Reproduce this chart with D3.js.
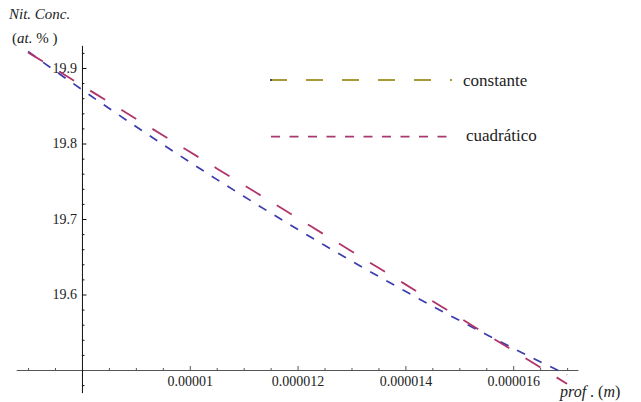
<!DOCTYPE html>
<html><head><meta charset="utf-8">
<script src="https://d3js.org/d3.v7.min.js"></script>
<style>
html,body{margin:0;padding:0;background:#fff;}
svg{display:block;}
svg text{font-family:"Liberation Serif","Times New Roman",Times,"DejaVu Serif","Noto Serif",serif;}
</style></head><body>
<svg id="chart" width="641" height="402"></svg>
<script>
// ---- data (depth in m, nitrogen concentration in at.%) ----
const depth = [7e-6, 7.5e-6, 8e-6, 8.5e-6, 9e-6, 9.5e-6, 10e-6, 10.5e-6, 11e-6, 11.5e-6, 12e-6,
               12.5e-6, 13e-6, 13.5e-6, 14e-6, 14.5e-6, 15e-6, 15.5e-6, 16e-6, 16.5e-6, 17e-6];
const constante = [19.9207, 19.8987, 19.8768, 19.8548, 19.8329, 19.8109, 19.7890, 19.7670, 19.7451, 19.7231, 19.7012,
                   19.6792, 19.6573, 19.6353, 19.6134, 19.5914, 19.5695, 19.5475, 19.5256, 19.5036, 19.4817];
const cuadratico = [19.9218, 19.8963, 19.8713, 19.8467, 19.8225, 19.7988, 19.7754, 19.7525, 19.7301, 19.7080, 19.6864,
                    19.6652, 19.6444, 19.6241, 19.6042, 19.5847, 19.5657, 19.5470, 19.5288, 19.5110, 19.4937];
const seriesNames = ["constante", "cuadrático"];

const xMajorTicks = [1e-5, 1.2e-5, 1.4e-5, 1.6e-5];
const xTickLabels = ["0.00001", "0.000012", "0.000014", "0.000016"];
const xMinorTicks = [7e-6, 7.5e-6, 8.5e-6, 9e-6, 9.5e-6, 10.5e-6, 11e-6, 11.5e-6, 12.5e-6, 13e-6, 13.5e-6,
                     14.5e-6, 15e-6, 15.5e-6, 16.5e-6, 17e-6];
const yMajorTicks = [19.6, 19.7, 19.8, 19.9];
const yTickLabels = ["19.6", "19.7", "19.8", "19.9"];
const yMinorTicks = [19.48, 19.52, 19.54, 19.56, 19.58, 19.62, 19.64, 19.66, 19.68, 19.72, 19.74, 19.76, 19.78,
                     19.82, 19.84, 19.86, 19.88, 19.92];
const xOrigin = 8e-6, yOrigin = 19.5;

// ---- drawing ----
const svg = d3.select("#chart");

const x = d3.scaleLinear().domain([6.78e-6, 17.2e-6]).range([16.2, 577.9]);
const y = d3.scaleLinear().domain([19.47, 19.93]).range([392.65, 45.35]);

function styleAxis(g, color) {
  g.attr("font-family", null);
  g.select(".domain").attr("stroke", color).attr("stroke-width", 1);
  g.selectAll(".tick line").attr("stroke", color);
  g.selectAll("text").attr("font-size", 14).attr("fill", "#222");
}

// X axis
const gx = svg.append("g").attr("transform", `translate(0,${y(yOrigin)})`);
gx.call(d3.axisBottom(x).tickValues(xMinorTicks).tickSizeInner(-2).tickSizeOuter(0).tickFormat(""));
styleAxis(gx, "#555");
const gx2 = svg.append("g").attr("transform", `translate(0,${y(yOrigin)})`);
gx2.call(d3.axisBottom(x).tickValues(xMajorTicks).tickSizeInner(-4).tickSizeOuter(0).tickPadding(6)
  .tickFormat((d, i) => xTickLabels[i]));
gx2.select(".domain").remove();
styleAxis(gx2, "#555");

// Y axis
const gy = svg.append("g").attr("transform", `translate(${x(xOrigin)},0)`);
gy.call(d3.axisLeft(y).tickValues(yMinorTicks).tickSizeInner(-2.5).tickSizeOuter(0).tickFormat(""));
styleAxis(gy, "#111");
const gy2 = svg.append("g").attr("transform", `translate(${x(xOrigin)},0)`);
gy2.call(d3.axisLeft(y).tickValues(yMajorTicks).tickSizeInner(-4.5).tickSizeOuter(0).tickPadding(5)
  .tickFormat((d, i) => yTickLabels[i]));
gy2.select(".domain").remove();
styleAxis(gy2, "#111");

// series lines
const line = d3.line().x(d => x(d[0])).y(d => y(d[1])).curve(d3.curveMonotoneX);
const plotData = [
  {name: seriesNames[1], values: depth.map((d, i) => [d, cuadratico[i]]), color: "#3c3cae", dash: "9,9.5", w: 1.7},
  {name: seriesNames[0], values: depth.map((d, i) => [d, constante[i]]), color: "#b0346a", dash: "17.5,19", w: 1.8}
];
svg.append("g").selectAll("path").data(plotData).join("path")
  .attr("d", d => line(d.values))
  .attr("fill", "none")
  .attr("stroke", d => d.color)
  .attr("stroke-width", d => d.w)
  .attr("stroke-dasharray", d => d.dash);

// legend
const legend = [
  {name: seriesNames[0], color: "#a89a36", dash: "17,19", x0: 270, x1: 452, y: 80, tx: 463, ty: 86},
  {name: seriesNames[1], color: "#a8386e", dash: "9,9.5", x0: 271, x1: 447, y: 136.7, tx: 466, ty: 141}
];
const lg = svg.append("g").selectAll("g").data(legend).join("g");
lg.append("line")
  .attr("x1", d => d.x0).attr("x2", d => d.x1).attr("y1", d => d.y).attr("y2", d => d.y)
  .attr("stroke", d => d.color).attr("stroke-width", 1.8).attr("stroke-dasharray", d => d.dash);
lg.append("text").attr("x", d => d.tx).attr("y", d => d.ty)
  .attr("font-size", 17).attr("fill", "#222")
  .text(d => d.name);
svg.append("circle").attr("cx", 271).attr("cy", 80).attr("r", 1).attr("fill", "#333");

// axis titles
svg.append("text").attr("x", 9).attr("y", 19)
  .attr("font-size", 15).attr("fill", "#222").attr("font-style", "italic")
  .text("Nit. Conc.");
const t2 = svg.append("text").attr("x", 12).attr("y", 43)
  .attr("font-size", 15).attr("fill", "#222");
t2.append("tspan").text("(");
t2.append("tspan").attr("font-style", "italic").text("at.");
t2.append("tspan").text(" % )");
const t3 = svg.append("text").attr("x", 560).attr("y", 397)
  .attr("font-size", 16).attr("fill", "#222");
t3.append("tspan").attr("font-style", "italic").text("prof");
t3.append("tspan").text(" . (");
t3.append("tspan").attr("font-style", "italic").text("m");
t3.append("tspan").text(")");
</script>
</body></html>
